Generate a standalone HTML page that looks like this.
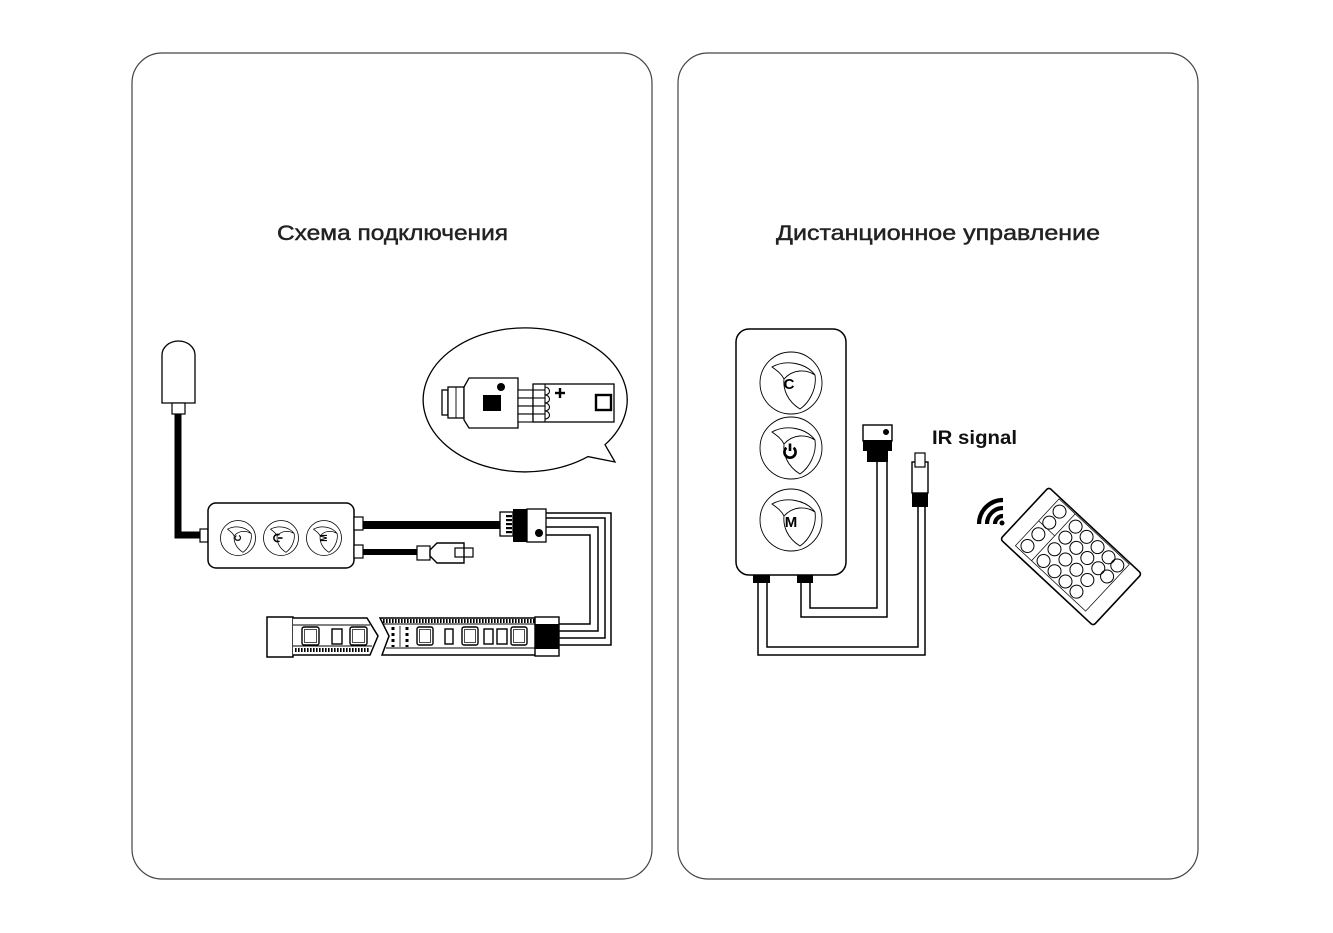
<!DOCTYPE html>
<html>
<head>
<meta charset="utf-8">
<style>
html,body{margin:0;padding:0;background:#fff;}
body{width:1333px;height:933px;overflow:hidden;}
svg{display:block;}
text{font-family:"Liberation Sans","DejaVu Sans",sans-serif;}
</style>
</head>
<body>
<svg width="1333" height="933" viewBox="0 0 1333 933" xmlns="http://www.w3.org/2000/svg">
<defs>
  <path id="leaf" d="M-19,-16 C-5,-24 15,-20 24,-8 C26,6 18,20 9,26 C-4,18 -8,6 -7,-4 C-10,-10 -15,-13 -19,-16 Z M-7,-4 C2,-14 15,-14 24,-8"/>
</defs>

<!-- Panels -->
<rect x="132" y="53" width="520" height="826" rx="30" ry="30" fill="none" stroke="#444" stroke-width="1.2"/>
<rect x="678" y="53" width="520" height="826" rx="30" ry="30" fill="none" stroke="#444" stroke-width="1.2"/>

<!-- Titles -->
<text x="277" y="240" font-size="21" fill="#222" stroke="#222" stroke-width="0.45" textLength="231" lengthAdjust="spacingAndGlyphs">Схема подключения</text>
<text x="776" y="240" font-size="21" fill="#222" stroke="#222" stroke-width="0.45" textLength="324" lengthAdjust="spacingAndGlyphs">Дистанционное управление</text>

<!-- ============ LEFT DIAGRAM ============ -->
<!-- plug -->
<path d="M162,403 V355 A16.5,14 0 0 1 195,355 V403 Z" fill="#fff" stroke="#000" stroke-width="1.3"/>
<rect x="172" y="403" width="13" height="11" fill="#fff" stroke="#000" stroke-width="1.2"/>
<path d="M178,414 V535 H202" fill="none" stroke="#000" stroke-width="7"/>
<rect x="200" y="529" width="8" height="13" fill="#fff" stroke="#000" stroke-width="1.2"/>

<!-- controller -->
<rect x="208" y="503" width="146" height="65" rx="8" fill="#fff" stroke="#000" stroke-width="1.5"/>
<g fill="none" stroke="#000" stroke-width="0.8">
  <circle cx="238" cy="538" r="17.5"/>
  <circle cx="281" cy="538" r="17.5"/>
  <circle cx="324" cy="538" r="17.5"/>
</g>
<g fill="none" stroke="#000" stroke-width="1.4">
  <use href="#leaf" transform="translate(238,538) scale(0.55)"/>
  <use href="#leaf" transform="translate(281,538) scale(0.55)"/>
  <use href="#leaf" transform="translate(324,538) scale(0.55)"/>
</g>
<text x="0" y="0" font-size="9" font-weight="bold" transform="translate(241,538) rotate(-90)" text-anchor="middle">C</text>
<g transform="translate(282,538)" fill="none" stroke="#000" stroke-width="1.6">
  <path d="M-2.5,-3 A3.6,3.6 0 1 0 -2.5,3"/><line x1="-4" y1="0" x2="0.5" y2="0"/>
</g>
<text x="0" y="0" font-size="9" font-weight="bold" transform="translate(327,538) rotate(-90)" text-anchor="middle">M</text>

<!-- output connectors -->
<rect x="354" y="517" width="9" height="13" fill="#fff" stroke="#000" stroke-width="1.2"/>
<rect x="354" y="545" width="9" height="13" fill="#fff" stroke="#000" stroke-width="1.2"/>
<line x1="363" y1="525" x2="501" y2="525" stroke="#000" stroke-width="8"/>
<line x1="363" y1="552" x2="418" y2="552" stroke="#000" stroke-width="6"/>
<rect x="417" y="546" width="13" height="14" fill="#fff" stroke="#000" stroke-width="1.2"/>
<path d="M430,550 L437,543 H464 V563 H437 L430,556 Z" fill="#fff" stroke="#000" stroke-width="1.4"/>
<rect x="455" y="548" width="18" height="9" fill="none" stroke="#000" stroke-width="1.2"/>

<!-- strip connector -->
<rect x="500" y="512" width="13" height="24" fill="#fff" stroke="#000" stroke-width="1.3"/>
<g fill="#000">
  <rect x="506" y="515" width="6" height="2.2"/>
  <rect x="506" y="519" width="6" height="2.2"/>
  <rect x="506" y="523" width="6" height="2.2"/>
  <rect x="506" y="527" width="6" height="2.2"/>
  <rect x="506" y="531" width="6" height="2.2"/>
</g>
<rect x="513" y="509" width="14" height="33" fill="#000"/>
<rect x="527" y="509" width="19" height="33" fill="#fff" stroke="#000" stroke-width="1.3"/>
<circle cx="539" cy="533" r="4" fill="#000"/>

<!-- wires -->
<g fill="none" stroke="#000" stroke-width="1.5">
  <path d="M546,513 H611 V645 H559"/>
  <path d="M546,518 H605 V638 H559"/>
  <path d="M546,527 H598 V631 H559"/>
  <path d="M546,535 H590 V624 H559"/>
</g>

<!-- LED strip -->
<rect x="267" y="617" width="26" height="40" fill="#fff" stroke="#000" stroke-width="1.5"/>
<path d="M293,618 H367 L378,636 L370,655 H293" fill="#fff" stroke="#000" stroke-width="1.5"/>
<path d="M293,625 H370" fill="none" stroke="#000" stroke-width="1"/>
<line x1="293" y1="646" x2="372" y2="646" stroke="#000" stroke-width="1"/>
<line x1="295" y1="650" x2="370" y2="650" stroke="#000" stroke-width="4" stroke-dasharray="1.6,1.4"/>
<path d="M535,618 H380 L389,636 L382,655 H535" fill="#fff" stroke="#000" stroke-width="1.5"/>
<line x1="383" y1="621" x2="535" y2="621" stroke="#000" stroke-width="4" stroke-dasharray="1.6,1.4"/>
<line x1="383" y1="624" x2="535" y2="624" stroke="#000" stroke-width="1"/>
<line x1="386" y1="648" x2="535" y2="648" stroke="#000" stroke-width="1"/>
<line x1="393" y1="627" x2="393" y2="647" stroke="#000" stroke-width="3" stroke-dasharray="3,3"/>
<line x1="407" y1="627" x2="407" y2="647" stroke="#000" stroke-width="3" stroke-dasharray="3,3"/>
<line x1="400" y1="626" x2="400" y2="647" stroke="#000" stroke-width="0.8"/>
<g fill="#fff" stroke="#000" stroke-width="1.4">
  <rect x="302" y="627" width="17" height="18" rx="2"/>
  <rect x="332" y="629" width="10" height="15"/>
  <rect x="350" y="627" width="17" height="18" rx="2"/>
  <rect x="417" y="627" width="16" height="18" rx="2"/>
  <rect x="445" y="629" width="8" height="15"/>
  <rect x="462" y="627" width="16" height="18" rx="2"/>
  <rect x="484" y="629" width="9" height="15"/>
  <rect x="497" y="629" width="10" height="15"/>
  <rect x="511" y="627" width="16" height="18" rx="2"/>
</g>
<g fill="none" stroke="#000" stroke-width="0.7">
  <rect x="304.5" y="629.5" width="12" height="13"/>
  <rect x="352.5" y="629.5" width="12" height="13"/>
  <rect x="419.5" y="629.5" width="11" height="13"/>
  <rect x="464.5" y="629.5" width="11" height="13"/>
  <rect x="513.5" y="629.5" width="11" height="13"/>
</g>
<rect x="535" y="617" width="24" height="39" fill="#fff" stroke="#000" stroke-width="1.4"/>
<rect x="535" y="624" width="24" height="25" fill="#000"/>

<!-- Bubble -->
<path d="M605,444.7 L615,462 L588,456.6 A102,72 0 1 1 605,444.7 Z" fill="#fff" stroke="#000" stroke-width="1.3"/>
<rect x="442" y="390" width="6" height="25" fill="#fff" stroke="#000" stroke-width="1.3"/>
<rect x="448" y="387" width="16" height="31" fill="#fff" stroke="#000" stroke-width="1.3"/>
<line x1="456" y1="387" x2="456" y2="418" stroke="#000" stroke-width="0.9"/>
<path d="M464,387 L469,378 H518 V428 H469 L464,420 Z" fill="#fff" stroke="#000" stroke-width="1.3"/>
<rect x="483" y="395" width="18" height="16" fill="#000"/>
<circle cx="501" cy="387" r="4" fill="#000"/>
<g fill="#fff" stroke="#000" stroke-width="1.1">
  <rect x="518" y="390" width="15" height="8"/>
  <rect x="518" y="398" width="15" height="8"/>
  <rect x="518" y="406" width="15" height="8"/>
  <rect x="518" y="414" width="15" height="8"/>
</g>
<rect x="533" y="384" width="81" height="38" fill="#fff" stroke="#000" stroke-width="1.3"/>
<g fill="none" stroke="#000" stroke-width="1.1">
  <line x1="545" y1="384" x2="545" y2="422"/>
  <line x1="533" y1="390" x2="545" y2="390"/>
  <line x1="533" y1="398" x2="545" y2="398"/>
  <line x1="533" y1="406" x2="545" y2="406"/>
  <line x1="533" y1="414" x2="545" y2="414"/>
  <path d="M545,387 A4.5,4 0 0 1 545,395"/>
  <path d="M545,395 A4.5,4 0 0 1 545,403"/>
  <path d="M545,403 A4.5,4 0 0 1 545,411"/>
  <path d="M545,411 A4.5,4 0 0 1 545,419"/>
</g>
<g stroke="#000" stroke-width="2.4">
  <line x1="555" y1="393" x2="565" y2="393"/>
  <line x1="560" y1="388" x2="560" y2="398"/>
</g>
<rect x="596" y="395" width="15" height="15" fill="none" stroke="#000" stroke-width="2.4"/>

<!-- ============ RIGHT DIAGRAM ============ -->
<rect x="736" y="329" width="110" height="246" rx="13" fill="#fff" stroke="#000" stroke-width="1.5"/>
<g fill="none" stroke="#000" stroke-width="0.9">
  <circle cx="791" cy="383" r="31"/>
  <circle cx="791" cy="448" r="31"/>
  <circle cx="791" cy="520" r="31"/>
</g>
<g fill="none" stroke="#000" stroke-width="0.9">
  <use href="#leaf" transform="translate(791,383)"/>
  <use href="#leaf" transform="translate(791,448)"/>
  <use href="#leaf" transform="translate(791,520)"/>
</g>
<text x="789" y="389" font-size="15" font-weight="bold" text-anchor="middle">C</text>
<g transform="translate(790,452)" fill="none" stroke="#000" stroke-width="2.6">
  <path d="M-3.6,-4.2 A5.6,5.6 0 1 0 3.6,-4.2"/>
  <line x1="0" y1="-8.5" x2="0" y2="-1"/>
</g>
<text x="791" y="527" font-size="15" font-weight="bold" text-anchor="middle">M</text>

<rect x="753" y="575" width="17" height="8" fill="#000"/>
<rect x="797" y="575" width="16" height="8" fill="#000"/>
<g fill="none" stroke="#000" stroke-width="1.5">
  <path d="M758,583 V655 H925 V507"/>
  <path d="M767,583 V647 H918 V507"/>
  <path d="M801,583 V617 H887 V462"/>
  <path d="M810,583 V608 H877 V462"/>
</g>

<!-- top connector -->
<rect x="863" y="425" width="29" height="16" fill="#fff" stroke="#000" stroke-width="1.4"/>
<rect x="863" y="440" width="29" height="11" fill="#000"/>
<rect x="867" y="450" width="21" height="12" fill="#000"/>
<circle cx="886" cy="432" r="3" fill="#000"/>

<!-- IR connector -->
<rect x="912" y="462" width="16" height="31" fill="#fff" stroke="#000" stroke-width="1.4"/>
<rect x="915" y="453" width="10" height="14" fill="#fff" stroke="#000" stroke-width="1.2"/>
<rect x="912" y="493" width="16" height="14" fill="#000"/>

<text x="932" y="444" font-size="19" font-weight="bold" fill="#111" textLength="85" lengthAdjust="spacingAndGlyphs">IR signal</text>

<!-- signal arcs -->
<g fill="none" stroke="#000" stroke-width="4.2" stroke-linecap="butt">
  <path d="M979,524 A24,24 0 0 1 1003,500"/>
  <path d="M987,524 A16,16 0 0 1 1003,508"/>
  <path d="M995,524 A8,8 0 0 1 1003,516"/>
</g>
<circle cx="1002" cy="523" r="2.5" fill="#000"/>

<!-- remote -->
<g transform="translate(1071,556.5) rotate(43)">
  <rect x="-63.5" y="-35.5" width="127" height="71" rx="3" fill="#fff" stroke="#000" stroke-width="1.6"/>
  <rect x="-48" y="-34" width="96" height="64" fill="none" stroke="#000" stroke-width="0.7"/>
  <line x1="-48" y1="-4" x2="-26" y2="-4" stroke="#000" stroke-width="0.7"/>
  <line x1="-26" y1="-34" x2="-26" y2="30" stroke="#000" stroke-width="0.7"/>
  <g fill="none" stroke="#000" stroke-width="1">
    <circle cx="-39" cy="-25" r="6.5"/><circle cx="-39" cy="-10" r="6.5"/><circle cx="-39" cy="6" r="6.5"/><circle cx="-39" cy="22" r="6.5"/>
    <circle cx="-17" cy="-25" r="6.5"/><circle cx="-17" cy="-10" r="6.5"/><circle cx="-17" cy="6" r="6.5"/><circle cx="-17" cy="22" r="6.5"/>
    <circle cx="-2" cy="-25" r="6.5"/><circle cx="-2" cy="-10" r="6.5"/><circle cx="-2" cy="6" r="6.5"/><circle cx="-2" cy="22" r="6.5"/>
    <circle cx="13" cy="-25" r="6.5"/><circle cx="13" cy="-10" r="6.5"/><circle cx="13" cy="6" r="6.5"/><circle cx="13" cy="22" r="6.5"/>
    <circle cx="28" cy="-25" r="6.5"/><circle cx="28" cy="-10" r="6.5"/><circle cx="28" cy="6" r="6.5"/><circle cx="28" cy="22" r="6.5"/>
    <circle cx="40" cy="-25" r="6.5"/><circle cx="40" cy="-10" r="6.5"/>
  </g>
</g>
</svg>
</body>
</html>
